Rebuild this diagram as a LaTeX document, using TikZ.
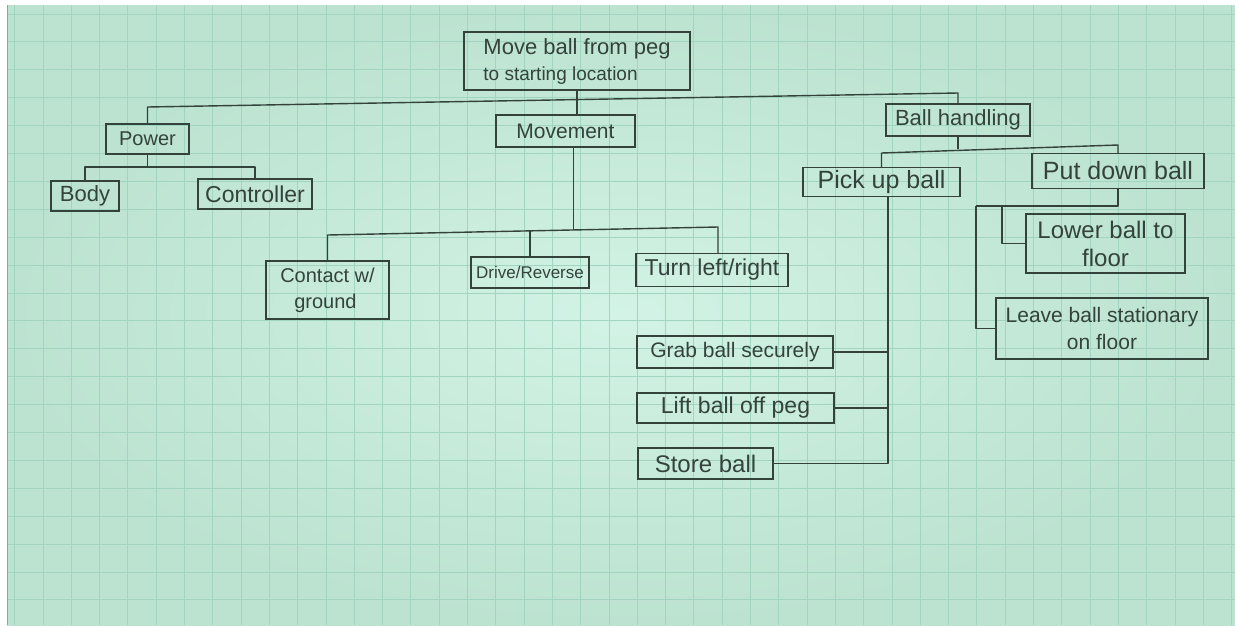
\documentclass[tikz,border=0pt]{standalone}
\usepackage{fontspec}
\setmainfont{Liberation Sans}
\definecolor{paperhi}{HTML}{D2F3E5}
\definecolor{paperlo}{HTML}{BCE2D0}
\definecolor{gridc}{HTML}{A2D5C1}
\definecolor{ink}{HTML}{33433C}
\newcommand\fsz[2]{\fontsize{#1pt}{#2pt}\selectfont}
\tikzset{
  box/.style={draw=ink, line width=1.5pt, inner sep=0pt, text=ink},
  wire/.style={draw=ink, line width=1.4pt, line join=round},
}
\begin{document}
\begin{tikzpicture}[x=1pt,y=-1pt]
\useasboundingbox (0,0) rectangle (1235,625);
% sheet of graph paper
\fill[white] (0,0) rectangle (1235,625);
\shade[inner color=paperhi, outer color=paperlo] (7,5) rectangle (1235,625);
\begin{scope}
  \clip (7,5) rectangle (1235,625);
  \foreach \i in {0,...,43}
    \draw[gridc, line width=1pt] ({14.7+28.3*\i},5) -- ({14.7+28.3*\i},625);
  \foreach \j in {0,...,22}
    \draw[gridc, line width=1pt] (7,{14+27.9*\j}) -- (1235,{14+27.9*\j});
\end{scope}
\draw[ink!50, line width=0.8pt] (7,5) -- (7,625);

% function boxes
\node[box, minimum width=226pt, minimum height=58pt, align=left, font=\fsz{22}{26}] (root) at (577,61)
  {Move ball from peg\\{\fsz{19}{23}to starting location}};
\node[box, minimum width=83pt, minimum height=30pt, font=\fsz{20}{24}] (power) at (147.5,139) {Power};
\node[box, minimum width=68pt, minimum height=30pt, font=\fsz{22}{26}] (body) at (85,196) {Body};
\node[box, minimum width=114pt, minimum height=30pt, font=\fsz{23}{27}] (ctrl) at (255,194) {Controller};
\node[box, minimum width=139pt, minimum height=32pt, font=\fsz{21}{25}] (move) at (565.5,131) {Movement};
\node[box, minimum width=123pt, minimum height=58pt, align=left, font=\fsz{20}{26}] (contact) at (327.5,290)
  {Contact w/\\\hspace*{14pt}ground};
\node[box, minimum width=118pt, minimum height=31pt, font=\fsz{17}{21}] (drive) at (530,272.5) {Drive/Reverse};
\node[box, minimum width=152pt, minimum height=33pt, font=\fsz{23}{27}] (turn) at (712,270) {Turn left/right};
\node[box, minimum width=144pt, minimum height=32pt, font=\fsz{22}{26}] (bh) at (958,120) {Ball handling};
\node[box, minimum width=157pt, minimum height=29pt, font=\fsz{25}{29}] (pick) at (881.5,182) {Pick up ball};
\node[box, minimum width=172pt, minimum height=35pt, font=\fsz{25}{29}] (put) at (1118,171) {Put down ball};
\node[box, minimum width=159pt, minimum height=59pt, align=center, font=\fsz{24}{28}] (lower) at (1105.5,243.5)
  {Lower ball to\\floor};
\node[box, minimum width=212pt, minimum height=61pt, align=center, font=\fsz{21}{27}] (leave) at (1102,328.5)
  {Leave ball stationary\\on floor};
\node[box, minimum width=196pt, minimum height=32pt, font=\fsz{21}{25}] (grab) at (735,352) {Grab ball securely};
\node[box, minimum width=197pt, minimum height=30pt, font=\fsz{23}{27}] (lift) at (735.5,408) {Lift ball off peg};
\node[box, minimum width=135pt, minimum height=31pt, font=\fsz{24}{28}] (store) at (705.5,463.5) {Store ball};

% bend points of the connectors
\coordinate (pv) at (888,0);
\coordinate (qa) at (976,206);
\coordinate (qb) at (1002,206);

% top level
\draw[wire] (root.south) -- (root.south |- move.north);
\draw[wire] (power.north) -- (power.north |- 0,107) -- (bh.north |- 0,93) -- (bh.north);

% power
\draw[wire] (power.south) -- (power.south |- 0,167);
\draw[wire] (body.north) -- (body.north |- 0,167) -- (ctrl.north |- 0,167) -- (ctrl.north);

% movement
\draw[wire] ([xshift=8pt]move.south) -- ([xshift=8pt]move.south |- 0,230);
\draw[wire] (contact.north) -- (contact.north |- 0,235) -- ([xshift=6pt]turn.north |- 0,227) -- ([xshift=6pt]turn.north);
\draw[wire] (drive.north) -- (drive.north |- 0,231);

% ball handling
\draw[wire] (bh.south) -- (bh.south |- 0,149);
\draw[wire] (pick.north) -- (pick.north |- 0,153) -- (put.north |- 0,145) -- (put.north);

% pick up ball
\draw[wire] (pick.south -| pv) -- (pv |- store.east) -- (store.east);
\draw[wire] (grab.east) -- (grab.east -| pv);
\draw[wire] (lift.east) -- (lift.east -| pv);

% put down ball
\draw[wire] (put.south) -- (put.south |- qa) -- (qa);
\draw[wire] (qa) |- (leave.west);
\draw[wire] (qb) |- (lower.west);
\end{tikzpicture}
\end{document}
